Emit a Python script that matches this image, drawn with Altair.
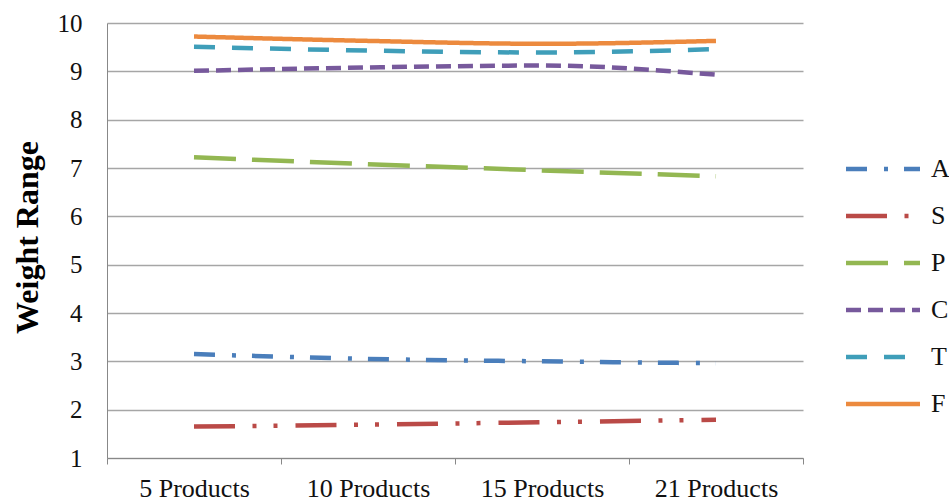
import altair as alt
import pandas as pd

# Categories on the x axis and the series names
categories = ["5 Products", "10 Products", "15 Products", "21 Products"]
series_names = ["A", "S", "P", "C", "T", "F"]

# Weight range of each series per product count
values_A = [3.15, 3.05, 3.00, 2.96]
values_S = [1.65, 1.69, 1.74, 1.79]
values_P = [7.22, 7.08, 6.95, 6.83]
values_C = [9.01, 9.08, 9.12, 8.93]
values_T = [9.51, 9.43, 9.39, 9.46]
values_F = [9.72, 9.63, 9.57, 9.63]

y_ticks = [1, 2, 3, 4, 5, 6, 7, 8, 9, 10]

# Line styling per series
colors = ["#4A7EBB", "#BA4A47", "#93B752", "#77599C", "#3F9EB9", "#EC8A3E"]
dashes = [
    [21, 17, 4, 16],            # dash-dot
    [41, 17.5, 4, 17, 4, 18],   # long dash-dot-dot
    [42, 16],                   # long dash
    [15, 7],                    # short dash
    [21, 17],                   # dash
    [1, 0],                     # solid
]

all_values = [values_A, values_S, values_P, values_C, values_T, values_F]
rows = []
for name, vals in zip(series_names, all_values):
    for cat, v in zip(categories, vals):
        rows.append({"Count": cat, "Series": name, "Weight": v})
df = pd.DataFrame(rows)

FONT = "Liberation Serif"

legend_def = alt.Legend(
    title=None,
    orient="none",
    legendX=733,
    legendY=133,
    symbolType="M-5,0H5",
    symbolSize=219,
    symbolStrokeWidth=4.5,
    symbolOffset=30,
    labelOffset=35,
    labelFont=FONT,
    labelFontSize=26,
    labelColor="#111111",
    rowPadding=21,
)

chart = (
    alt.Chart(df)
    .mark_line(strokeWidth=4.5, interpolate="monotone", strokeCap="butt")
    .encode(
        x=alt.X(
            "Count:N",
            sort=categories,
            scale=alt.Scale(type="band", paddingInner=0, paddingOuter=0),
            axis=alt.Axis(
                title=None,
                labelAngle=0,
                tickBand="extent",
                tickSize=6,
                tickColor="#888888",
                domainColor="#888888",
                labelFont=FONT,
                labelFontSize=26,
                labelColor="#111111",
                labelPadding=11,
                grid=False,
            ),
        ),
        y=alt.Y(
            "Weight:Q",
            scale=alt.Scale(domain=[1, 10], nice=False, zero=False),
            axis=alt.Axis(
                title="Weight Range",
                values=y_ticks,
                ticks=False,
                labelFont=FONT,
                labelFontSize=25,
                labelColor="#111111",
                labelPadding=25,
                domainColor="#888888",
                gridColor="#A6A6A6",
                gridWidth=1.3,
                titleFont=FONT,
                titleFontSize=32,
                titleFontWeight="bold",
                titleColor="#000000",
                titleAngle=270,
                titleAlign="center",
                titleBaseline="middle",
                titleX=-80,
                titleY=214,
            ),
        ),
        color=alt.Color(
            "Series:N",
            sort=series_names,
            scale=alt.Scale(domain=series_names, range=colors),
            legend=legend_def,
        ),
        strokeDash=alt.StrokeDash(
            "Series:N",
            sort=series_names,
            scale=alt.Scale(domain=series_names, range=dashes),
            legend=legend_def,
        ),
    )
    .properties(
        width=696,
        height=435,
        padding={"left": 107, "top": 23, "right": 146, "bottom": 46},
        autosize=alt.AutoSizeParams(type="none"),
        background="white",
    )
    .configure_view(stroke=None)
)

chart.save("out.html", embed_options={"renderer": "svg", "actions": False})
